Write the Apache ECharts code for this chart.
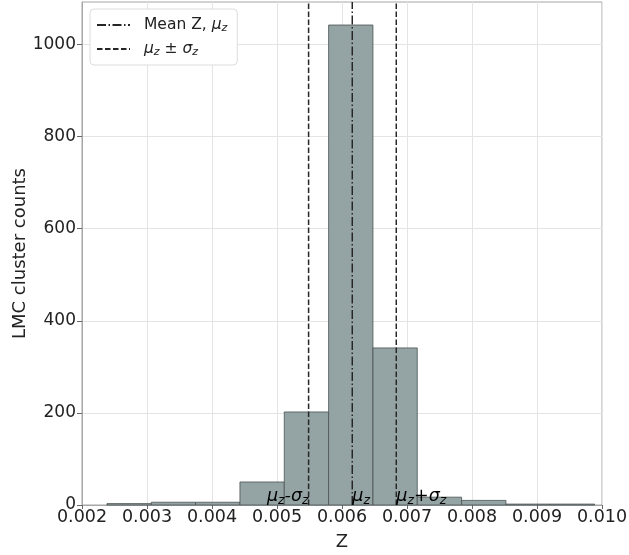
<!DOCTYPE html>
<html lang="en">
<head>
    <meta charset="UTF-8">
    <title>LMC cluster metallicity histogram</title>
    <style>
        html, body { margin: 0; padding: 0; background: #fff; }
    </style>
</head>
<body>
    <div id="main" style="width: 629px;height:555px;"></div>
    <script src="https://cdn.jsdelivr.net/npm/echarts@6/dist/echarts.min.js"></script>
    <script type="text/javascript">
        // histogram bins (left edge of each bin) and counts
        var binStart = [0.002384, 0.003066, 0.003748, 0.00443, 0.005112, 0.005794, 0.006476, 0.007158, 0.00784, 0.008522, 0.009204];
        var binWidth = 0.000682;
        var counts = [3, 6, 6, 50, 202, 1042, 341, 17, 10, 2, 2];

        // mean and +-1 sigma
        var meanZ = 0.006158;
        var sigmaLow = 0.005486;
        var sigmaHigh = 0.006835;

        // annotation labels at the lines
        var noteX = [sigmaLow, meanZ, sigmaHigh];
        var noteText = ['{m|μ}{s|z}{m|-σ}{s|z}', '{m|μ}{s|z}', '{m|μ}{s|z}{m|+σ}{s|z}'];
        var noteAlign = ['right', 'left', 'left'];

        var xTicks = [0.002, 0.003, 0.004, 0.005, 0.006, 0.007, 0.008, 0.009, 0.010];
        var yTicks = [0, 200, 400, 600, 800, 1000];
        var yMax = 1092;

        var FONT = 'DejaVu Sans';
        var LINE = '#262626';
        var DASHDOT = [9, 2.5, 1.5, 2.5];
        var DASHED = [5.5, 2.5];

        var histData = binStart.map(function (s, i) { return [s, s + binWidth, counts[i]]; });
        var noteData = noteX.map(function (x) { return [x, 0]; });

        var legendRich = {
            g: { width: 9 },
            n: { fontFamily: FONT, fontSize: 15.5, color: '#222', lineHeight: 20 },
            m: { fontFamily: FONT, fontSize: 15.5, fontStyle: 'italic', color: '#222', lineHeight: 20 },
            s: { fontFamily: FONT, fontSize: 11, fontStyle: 'italic', color: '#222', lineHeight: 20, padding: [7, 0, 0, 0] }
        };
        var noteRich = {
            m: { fontFamily: FONT, fontSize: 17.5, fontStyle: 'italic', color: '#222' },
            s: { fontFamily: FONT, fontSize: 12.5, fontStyle: 'italic', color: '#222', padding: [8, 0, 0, 0] }
        };

        var myChart = echarts.init(document.getElementById('main'));

        var option = {
            animation: false,
            grid: {
                left: 82, right: 27, top: 2, bottom: 50,
                outerBoundsMode: 'none',
                show: true, borderColor: '#a6a6a6', borderWidth: 1
            },
            legend: {
                left: 90, top: 9,
                orient: 'vertical',
                itemWidth: 33, itemHeight: 14, itemGap: 6,
                padding: [7, 10, 7, 6],
                backgroundColor: '#fff',
                borderColor: '#dcdcdc', borderWidth: 1, borderRadius: 4,
                itemStyle: { opacity: 0 },
                data: ['mean', 'sigma'],
                formatter: function (name) {
                    if (name === 'mean') return '{g|}{n|Mean Z, }{m|μ}{s|z}';
                    return '{g|}{m|μ}{s|z}{n| ± }{m|σ}{s|z}';
                },
                textStyle: { rich: legendRich }
            },
            xAxis: {
                type: 'value',
                min: 0.002, max: 0.010, interval: 0.001,
                name: 'Z', nameLocation: 'middle', nameGap: 28,
                nameTextStyle: { fontFamily: FONT, fontSize: 18, color: '#222' },
                axisLine: { show: true, onZero: false, lineStyle: { color: '#a6a6a6' } },
                axisTick: { show: true, length: 4, lineStyle: { color: '#666' } },
                axisLabel: {
                    fontFamily: FONT, fontSize: 17.5, color: '#222', margin: 3,
                    customValues: xTicks,
                    formatter: function (v) { return v.toFixed(3); }
                },
                splitLine: { show: true, lineStyle: { color: '#e4e4e4' } }
            },
            yAxis: {
                type: 'value',
                min: 0, max: yMax, interval: 200,
                name: 'LMC cluster counts', nameLocation: 'middle', nameGap: 53,
                nameMoveOverlap: false,
                nameTextStyle: { fontFamily: FONT, fontSize: 18, color: '#222' },
                axisLine: { show: true, lineStyle: { color: '#a6a6a6' } },
                axisTick: { show: true, length: 5, customValues: yTicks, lineStyle: { color: '#666' } },
                axisLabel: {
                    fontFamily: FONT, fontSize: 17, color: '#222', margin: 6,
                    customValues: yTicks,
                    formatter: function (v) { return String(v); }
                },
                splitLine: { show: true, lineStyle: { color: '#e4e4e4' } }
            },
            series: [{
                type: 'custom',
                name: 'hist',
                data: histData,
                encode: { x: [0, 1], y: 2 },
                renderItem: function (params, api) {
                    var p1 = api.coord([api.value(0), api.value(2)]);
                    var p2 = api.coord([api.value(1), 0]);
                    return {
                        type: 'rect',
                        shape: { x: p1[0], y: p1[1], width: p2[0] - p1[0], height: p2[1] - p1[1] },
                        style: { fill: '#94a4a4', stroke: '#4a5252', lineWidth: 0.8 }
                    };
                },
                z: 2
            }, {
                type: 'line',
                name: 'mean',
                data: [[meanZ, 0], [meanZ, yMax]],
                symbol: 'none',
                color: LINE,
                lineStyle: { color: LINE, width: 1.5, type: DASHDOT },
                silent: true,
                z: 4
            }, {
                type: 'line',
                name: 'sigma',
                data: [[sigmaLow, 0], [sigmaLow, yMax]],
                symbol: 'none',
                color: LINE,
                lineStyle: { color: LINE, width: 1.5, type: DASHED },
                silent: true,
                z: 4
            }, {
                type: 'line',
                name: 'sigma',
                data: [[sigmaHigh, 0], [sigmaHigh, yMax]],
                symbol: 'none',
                color: LINE,
                lineStyle: { color: LINE, width: 1.5, type: DASHED },
                silent: true,
                z: 4
            }, {
                type: 'custom',
                name: 'notes',
                data: noteData,
                encode: { x: 0, y: 1 },
                renderItem: function (params, api) {
                    var p = api.coord([api.value(0), api.value(1)]);
                    var i = params.dataIndex;
                    return {
                        type: 'text',
                        x: p[0], y: p[1] + 2,
                        style: {
                            text: noteText[i],
                            align: noteAlign[i],
                            verticalAlign: 'bottom',
                            rich: noteRich
                        }
                    };
                },
                z: 5
            }]
        };

        myChart.setOption(option);
    </script>
</body>
</html>
